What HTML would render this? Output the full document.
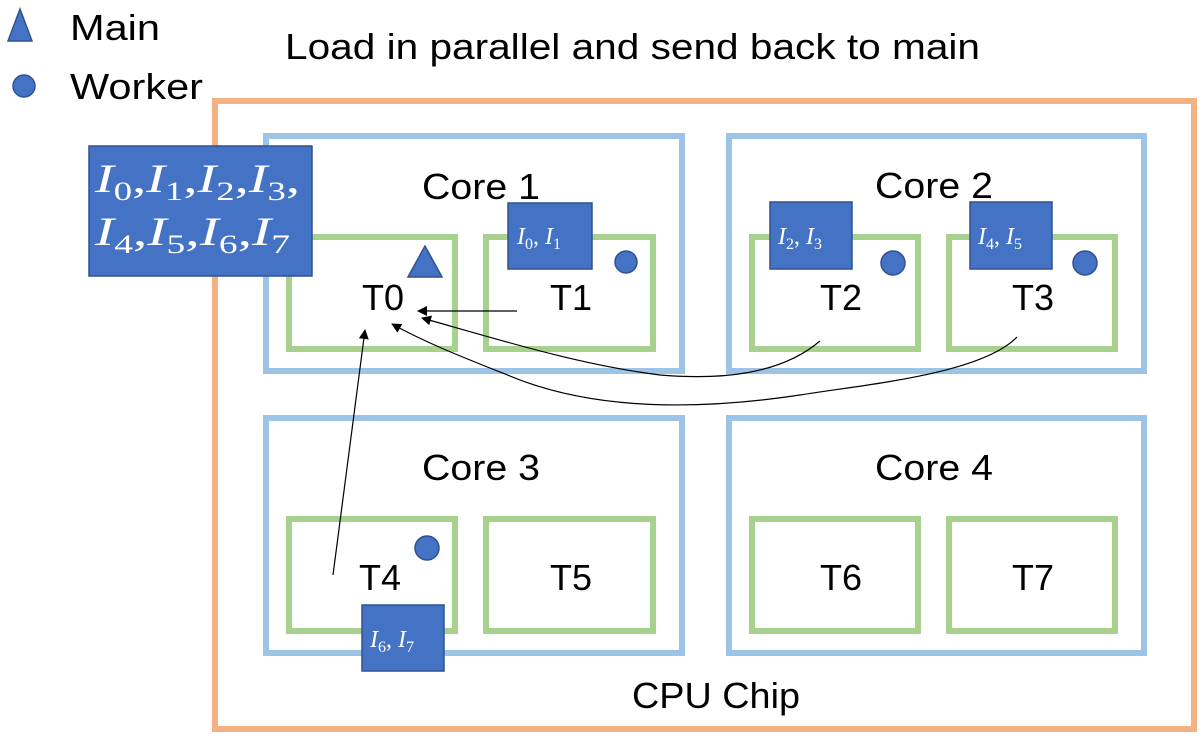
<!DOCTYPE html>
<html><head><style>body{margin:0;background:#fff}svg{display:block}</style></head><body>
<svg width="1204" height="738" xmlns="http://www.w3.org/2000/svg" font-family="Liberation Sans, sans-serif">
<defs><marker id="a" markerWidth="10" markerHeight="10" refX="9" refY="5" orient="auto" markerUnits="userSpaceOnUse"><path d="M0,0 L10,5 L0,10 z" fill="#000"/></marker></defs>
<rect x="0" y="0" width="1204" height="738" fill="#fff"/>
<rect x="215" y="101" width="979" height="628" fill="none" stroke="#F4B183" stroke-width="6"/>
<g fill="none" stroke="#9DC3E6" stroke-width="6">
<rect x="266" y="136" width="416" height="235"/><rect x="729" y="136" width="415" height="235"/>
<rect x="266" y="418" width="416" height="235"/><rect x="729" y="418" width="415" height="235"/>
</g>
<g fill="none" stroke="#A9D18E" stroke-width="6">
<rect x="289" y="237" width="166" height="112"/><rect x="486" y="237" width="167" height="112"/>
<rect x="752" y="237" width="166" height="112"/><rect x="949" y="237" width="166" height="112"/>
<rect x="289" y="519" width="166" height="112"/><rect x="486" y="519" width="167" height="112"/>
<rect x="752" y="519" width="166" height="112"/><rect x="949" y="519" width="166" height="112"/>
</g>
<g font-size="36" fill="#000">
<text x="70" y="40" textLength="90" lengthAdjust="spacingAndGlyphs">Main</text><text x="70" y="99" textLength="133" lengthAdjust="spacingAndGlyphs">Worker</text>
<text x="285" y="59" textLength="695" lengthAdjust="spacingAndGlyphs">Load in parallel and send back to main</text>
<text x="422" y="199" textLength="118" lengthAdjust="spacingAndGlyphs">Core 1</text><text x="875" y="198" textLength="118" lengthAdjust="spacingAndGlyphs">Core 2</text>
<text x="422" y="480" textLength="118" lengthAdjust="spacingAndGlyphs">Core 3</text><text x="875" y="480" textLength="118" lengthAdjust="spacingAndGlyphs">Core 4</text>
<text x="383" y="310" text-anchor="middle">T0</text><text x="571" y="310" text-anchor="middle">T1</text>
<text x="841" y="310" text-anchor="middle">T2</text><text x="1033" y="310" text-anchor="middle">T3</text>
<text x="380" y="590" text-anchor="middle">T4</text><text x="571" y="590" text-anchor="middle">T5</text>
<text x="841" y="590" text-anchor="middle">T6</text><text x="1033" y="590" text-anchor="middle">T7</text>
<text x="632" y="708" textLength="168" lengthAdjust="spacingAndGlyphs">CPU Chip</text>
</g>
<g fill="#4472C4" stroke="#2F528F" stroke-width="1.5">
<path d="M8,41 L20,9 L32,41 z"/><circle cx="24" cy="86" r="11"/>
<rect x="89" y="146" width="223" height="130"/>
<rect x="508" y="203" width="84" height="66"/><rect x="770" y="202" width="82" height="67"/>
<rect x="970" y="202" width="82" height="67"/><rect x="362" y="605" width="82" height="66"/>
<path d="M408,277 L425,246 L442,277 z"/>
<circle cx="626" cy="262" r="11"/><circle cx="893" cy="263" r="12"/><circle cx="1085" cy="263" r="12"/><circle cx="427" cy="548" r="12"/>
</g>
<g fill="#fff" font-family="Liberation Serif, serif">
<text x="95" y="192" font-size="40" textLength="205" lengthAdjust="spacingAndGlyphs"><tspan font-style="italic">I</tspan><tspan font-size="26" dy="8">0</tspan><tspan dy="-8">,</tspan><tspan font-style="italic">I</tspan><tspan font-size="26" dy="8">1</tspan><tspan dy="-8">,</tspan><tspan font-style="italic">I</tspan><tspan font-size="26" dy="8">2</tspan><tspan dy="-8">,</tspan><tspan font-style="italic">I</tspan><tspan font-size="26" dy="8">3</tspan><tspan dy="-8">,</tspan></text>
<text x="95" y="245" font-size="40" textLength="195" lengthAdjust="spacingAndGlyphs"><tspan font-style="italic">I</tspan><tspan font-size="26" dy="8">4</tspan><tspan dy="-8">,</tspan><tspan font-style="italic">I</tspan><tspan font-size="26" dy="8">5</tspan><tspan dy="-8">,</tspan><tspan font-style="italic">I</tspan><tspan font-size="26" dy="8">6</tspan><tspan dy="-8">,</tspan><tspan font-style="italic">I</tspan><tspan font-size="26" dy="8">7</tspan></text>
<text x="517" y="244" font-size="24"><tspan font-style="italic">I</tspan><tspan font-size="16" dy="5">0</tspan><tspan dy="-5">, </tspan><tspan font-style="italic">I</tspan><tspan font-size="16" dy="5">1</tspan></text>
<text x="778" y="244" font-size="24"><tspan font-style="italic">I</tspan><tspan font-size="16" dy="5">2</tspan><tspan dy="-5">, </tspan><tspan font-style="italic">I</tspan><tspan font-size="16" dy="5">3</tspan></text>
<text x="978" y="244" font-size="24"><tspan font-style="italic">I</tspan><tspan font-size="16" dy="5">4</tspan><tspan dy="-5">, </tspan><tspan font-style="italic">I</tspan><tspan font-size="16" dy="5">5</tspan></text>
<text x="370" y="647" font-size="24"><tspan font-style="italic">I</tspan><tspan font-size="16" dy="5">6</tspan><tspan dy="-5">, </tspan><tspan font-style="italic">I</tspan><tspan font-size="16" dy="5">7</tspan></text>
</g>
<g fill="none" stroke="#000" stroke-width="1.2" marker-end="url(#a)">
<path d="M517,311 L418,311"/>
<path d="M820,341 C780,375 720,380 660,375 C580,365 500,340 422,318"/>
<path d="M1017,337 C980,375 860,385 800,395 C700,410 600,410 520,380 C470,360 430,345 392,324"/>
<path d="M333,575 L365,330"/>
</g>
</svg>
</body></html>
